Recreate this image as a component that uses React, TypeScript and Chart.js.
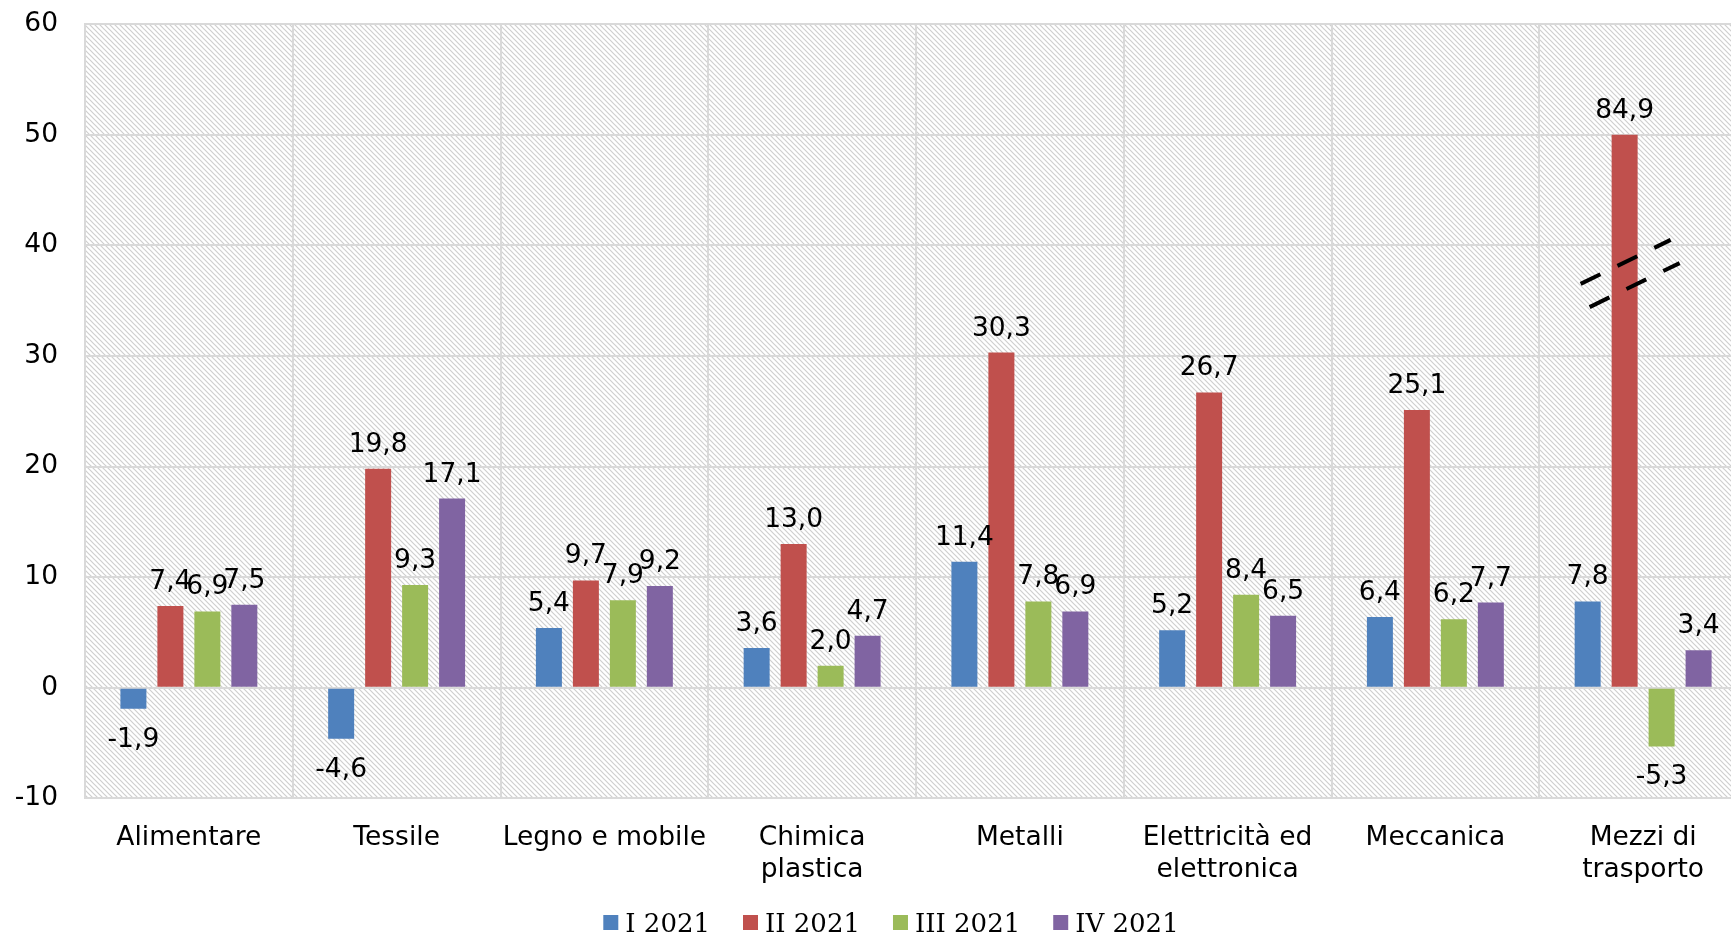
import React, { useEffect, useRef } from "react";
import { Chart, registerables } from "chart.js";

Chart.register(...registerables);

const categories: string[][] = [
  ["Alimentare"],
  ["Tessile"],
  ["Legno e mobile"],
  ["Chimica", "plastica"],
  ["Metalli"],
  ["Elettricità ed", "elettronica"],
  ["Meccanica"],
  ["Mezzi di", "trasporto"],
];
const seriesLabels = ["I 2021", "II 2021", "III 2021", "IV 2021"];
const q1 = [-1.9, -4.6, 5.4, 3.6, 11.4, 5.2, 6.4, 7.8];
const q2 = [7.4, 19.8, 9.7, 13.0, 30.3, 26.7, 25.1, 84.9];
const q3 = [6.9, 9.3, 7.9, 2.0, 7.8, 8.4, 6.2, -5.3];
const q4 = [7.5, 17.1, 9.2, 4.7, 6.9, 6.5, 7.7, 3.4];
const seriesValues = [q1, q2, q3, q4];
const colors = ["#4F81BD", "#C0504D", "#9BBB59", "#8064A2"];
const yMin = -10;
const yMax = 60;
const yStep = 10;
const AXIS_BREAK = 50; // values above are drawn cut at this level

const FONT = "DejaVu Sans";
const FSIZE = 26.5;
const CANVAS_W = 1782;
const CANVAS_H = 934;

function fmt(v: number) {
  return v.toFixed(1).replace(".", ",");
}

function makePattern(ctx: CanvasRenderingContext2D) {
  const s = 5;
  const c = document.createElement("canvas");
  c.width = s;
  c.height = s;
  const g = c.getContext("2d")!;
  g.fillStyle = "#ffffff";
  g.fillRect(0, 0, s, s);
  g.strokeStyle = "#cfcfcf";
  g.lineWidth = 1.2;
  g.beginPath();
  g.moveTo(-1, -1);
  g.lineTo(s + 1, s + 1);
  g.moveTo(-1, s - 1);
  g.lineTo(1, s + 1);
  g.moveTo(s - 1, -1);
  g.lineTo(s + 1, 1);
  g.stroke();
  return ctx.createPattern(c, "repeat")!;
}

const hatchPlugin = {
  id: "hatch",
  beforeDraw(chart: any) {
    const { ctx, chartArea } = chart;
    ctx.save();
    ctx.fillStyle = makePattern(ctx);
    ctx.fillRect(
      chartArea.left,
      chartArea.top,
      chartArea.right - chartArea.left,
      chartArea.bottom - chartArea.top
    );
    ctx.restore();
  },
};

const labelPlugin = {
  id: "valueLabels",
  afterDatasetsDraw(chart: any) {
    const { ctx } = chart;
    ctx.save();
    ctx.font = `${FSIZE}px "${FONT}"`;
    ctx.fillStyle = "#000";
    ctx.textAlign = "center";
    ctx.textBaseline = "alphabetic";
    seriesValues.forEach((vals, di) => {
      const meta = chart.getDatasetMeta(di);
      meta.data.forEach((el: any, i: number) => {
        const v = vals[i];
        if (v >= 0) {
          ctx.fillText(fmt(v), el.x, el.y - 17);
        } else {
          ctx.fillText(fmt(v), el.x, el.y + 38);
        }
      });
    });
    ctx.restore();
  },
};

const breakPlugin = {
  id: "axisBreak",
  afterDatasetsDraw(chart: any) {
    const { ctx } = chart;
    const y = chart.scales.y;
    ctx.save();
    ctx.strokeStyle = "#000";
    ctx.lineWidth = 4;
    ctx.setLineDash([22, 19]);
    seriesValues.forEach((vals, di) => {
      const meta = chart.getDatasetMeta(di);
      vals.forEach((v, i) => {
        if (v <= AXIS_BREAK) return;
        const el: any = meta.data[i];
        const lines = [
          { dx: 1, v: 38.5 },
          { dx: 10, v: 36.4 },
        ];
        lines.forEach((l) => {
          const cx = el.x + l.dx;
          const cy = y.getPixelForValue(l.v);
          ctx.beginPath();
          ctx.moveTo(cx - 45, cy + 22);
          ctx.lineTo(cx + 45, cy - 22);
          ctx.stroke();
        });
      });
    });
    ctx.restore();
  },
};

const legendPlugin = {
  id: "customLegend",
  afterDraw(chart: any) {
    const { ctx, width, height } = chart;
    ctx.save();
    ctx.font = `26px "DejaVu Serif"`;
    const box = 15;
    const gapText = 7;
    const gapItem = 33;
    const widths = seriesLabels.map((s) => ctx.measureText(s).width);
    const total =
      widths.reduce((a, w) => a + box + gapText + w, 0) +
      gapItem * (seriesLabels.length - 1);
    let x = width / 2 - total / 2;
    const baseline = height - 2;
    const boxTop = height - 19;
    seriesLabels.forEach((s, i) => {
      ctx.fillStyle = colors[i];
      ctx.fillRect(x, boxTop, box, box);
      ctx.fillStyle = "#000";
      ctx.textAlign = "left";
      ctx.textBaseline = "alphabetic";
      ctx.fillText(s, x + box + gapText, baseline);
      x += box + gapText + widths[i] + gapItem;
    });
    ctx.restore();
  },
};

export default function App() {
  const ref = useRef<HTMLCanvasElement | null>(null);
  useEffect(() => {
    if (!ref.current) return;
    const chart = new Chart(ref.current, {
      type: "bar",
      data: {
        labels: categories,
        datasets: seriesLabels.map((lab, i) => ({
          label: lab,
          data: seriesValues[i].map((v) => Math.min(v, AXIS_BREAK)),
          backgroundColor: colors[i],
          borderWidth: 0,
          categoryPercentage: 0.712,
          barPercentage: 0.703,
        })),
      },
      options: {
        responsive: false,
        animation: false,
        layout: { padding: { top: 24, right: 35, left: 0, bottom: 24 } },
        plugins: {
          legend: { display: false },
          tooltip: { enabled: false },
        },
        scales: {
          x: {
            grid: {
              color: "#d9d9d9",
              lineWidth: 2,
              offset: true,
              drawTicks: false,
            },
            border: { color: "#d9d9d9", width: 2 },
            ticks: {
              color: "#000",
              font: { family: FONT, size: FSIZE, lineHeight: 1.2 },
              padding: 24,
              maxRotation: 0,
              autoSkip: false,
            },
          },
          y: {
            min: yMin,
            max: yMax,
            grid: { color: "#d9d9d9", lineWidth: 2, drawTicks: false },
            border: { color: "#d9d9d9", width: 2 },
            ticks: {
              stepSize: yStep,
              color: "#000",
              font: { family: FONT, size: FSIZE },
              padding: 27,
            },
            afterFit(scale: any) {
              scale.width = 85;
              scale.paddingTop = 0;
              scale.paddingBottom = 0;
            },
          },
        },
      },
      plugins: [hatchPlugin, labelPlugin, breakPlugin, legendPlugin],
    });
    return () => chart.destroy();
  }, []);
  return (
    <div
      style={{
        position: "absolute",
        left: 0,
        top: 0,
        width: 1731,
        height: 934,
        overflow: "hidden",
        background: "#fff",
      }}
    >
      <canvas
        ref={ref}
        width={CANVAS_W}
        height={CANVAS_H}
        style={{ display: "block" }}
      />
    </div>
  );
}
